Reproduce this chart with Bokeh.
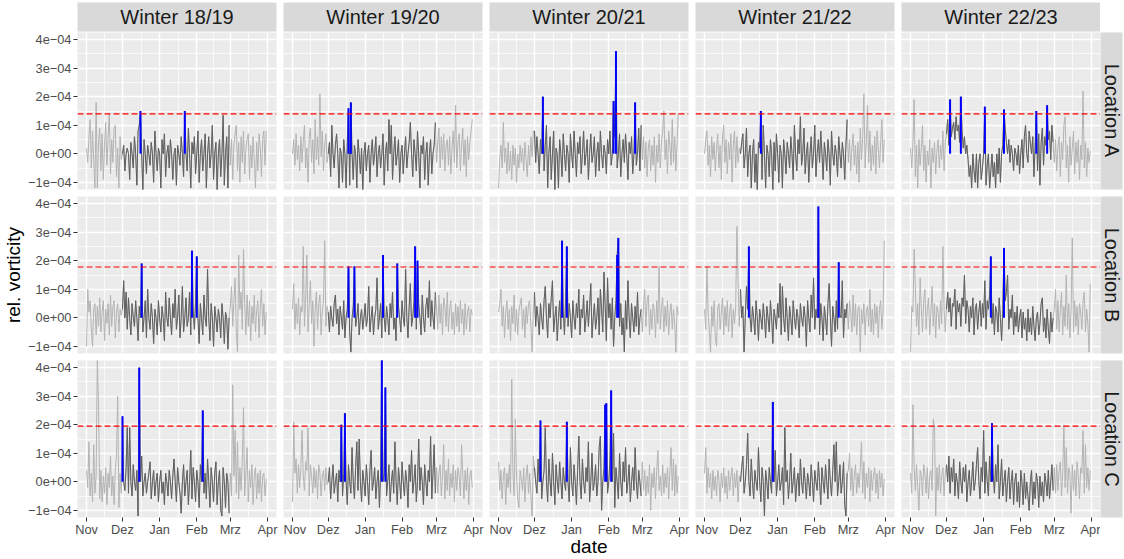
import math
import datetime as dt
from bokeh.plotting import figure
from bokeh.layouts import row, column, Spacer
from bokeh.models import Range1d, FixedTicker, Span
from bokeh.core.properties import value
from bokeh.embed import file_html
from bokeh.resources import INLINE

# ---------------- data (vorticity in units of 1e-5, daily from 1 Nov) ----------------
seasons = ["Winter 18/19", "Winter 19/20", "Winter 20/21", "Winter 21/22", "Winter 22/23"]
start_years = [2018, 2019, 2020, 2021, 2022]
locations = ["Location A", "Location B", "Location C"]
thresholds = [14.0, 17.8, 19.5]
month_labels = ["Nov", "Dez", "Jan", "Feb", "Mrz", "Apr"]
y_ticks = [-10, 0, 10, 20, 30, 40]
y_minor = [-5, 5, 15, 25, 35]
y_labels = ["\u22121e\u221204", "0e+00", "1e\u221204", "2e\u221204", "3e\u221204", "4e\u221204"]

A_1819 = [2, -3, 6, 12, -5, 8, -2, -12, 18, -12,
          4, 9, -6, 7, -9, 3, 11, -4, 6, 14,
          -7, 5, -3, 9, 10, -8, 2, -12, 6, -2,
          0, 3, -6, 0, 2, 0, -9, 4, 0, -5,
          6, 0, -11, 8, 10, 15, 0, -13, 5, 0,
          -7, 3, 0, -4, 4, 0, -10, 8, 0, -6,
          2, 0, -12, 5, 0, 7, -8, 0, 3, -5,
          5, 0, -9, 0, 2, -11, 3, 0, -4, 6,
          0, -8, 15, 0, -6, 9, 0, -12, 4, 0,
          6, -7, 0, 8, -10, 0, 5, -6, 0, 7,
          -12, 0, 6, -5, 0, 10, -9, 0, 4, -13,
          0, 5, -8, 0, 13.5, -11, 0, 6, -12, 10,
          -4, 5, -9, 3, 7, 10, -6, 4, -10, 6,
          -3, 8, -7, 2, 5, 7, -9, 3, -5, 6,
          -2, -12, 4, -6, 7, 2, -8, 5, 8, -4, 8]

A_1920 = [0, 5, -4, 7, -2, 3, -6, 6, -3, 4,
          10, -5, 2, -10, 6, 9, -3, 5, -7, 12,
          -2, 6, -4, 21, -1, 8, -6, 3, 7, -3,
          0, 4, -8, 10, 0, -5, 3, 7, 0, -12,
          2, 0, -10, 5, 0, -12, 4, 16, -11, 18,
          0, -9, 3, 0, -12, 5, 0, -7, 2, -13,
          0, 4, -6, 0, 3, -10, 0, 5, -4, 0,
          6, -8, 0, 3, -5, 0, 7, -11, 0, 4,
          -6, 12, 0, 10, -9, 0, 6, -4, 0, 5,
          -10, 0, 3, -7, 0, 6, -5, 0, 4, 11,
          0, -8, 5, 0, -6, 8, 0, -12, 3, 0,
          6, -9, 0, 4, -11, 0, 5, -7, 0, 3, 11,
          -3, 4, 9, -5, 6, -2, 7, -6, 3, 5,
          -4, 6, -7, 2, 8, -3, 17, -5, 4, 7,
          -6, 3, 9, -4, 5, -8, 6, -2, 4, 8, 12]

A_2021 = [-12, -2, 3, -5, 11, -3, 2, -7, 4, -6,
          1, -9, 3, -4, 2, -10, 0, -5, 3, -3,
          2, -6, 4, -2, -8, 3, -4, 6, -1, 8,
          8, -3, 6, 0, -7, 5, 0, 20, -6, 3,
          10, -12, 0, 6, -9, 0, 8, -13, 2, 0,
          -12, 5, 0, -8, 7, 0, -6, 3, 0, -10,
          7, 0, -5, 8, 0, -8, 4, 0, 6, -7,
          0, 8, -4, 0, 5, -9, 0, 7, -3, 0,
          6, -8, 0, 4, -6, 8, 0, -5, 3, 0,
          -7, 5, 0, 8, -4, 0, 18.5, 6, 36, -5,
          0, 7, -8, 0, 5, -3, 7, 0, -9, 4,
          0, 6, -7, 0, 18, -4, 0, 9, -6, 10,
          -2, 6, -5, 4, -8, 2, 5, -6, 3, -4,
          6, -10, 3, -3, 7, -5, 4, 8, 15, -2,
          5, -7, 8, 3, -4, 12, -3, 6, -6, 4, 14]

A_2122 = [0, 5, 8, -4, 3, -8, 6, -2, 4, -6,
          2, 7, -5, 3, -9, 6, 10, -3, 5, -7,
          4, -2, 7, -10, 3, 8, -5, 6, -3, 2,
          0, 4, 7, -5, 0, 9, -8, 0, 3, -12,
          0, 5, -10, 0, -13, 4, 2, 15, -9, 10,
          0, -12, 3, 0, -8, 5, 0, -13, 4, -6,
          7, 0, -10, 3, 0, -12, 5, 0, -7, 4,
          0, -5, 6, 0, -9, 10, 0, -6, 5, 0,
          13, -4, 0, 9, -7, 0, 4, -10, 0, 6,
          -5, 0, 10, -8, 0, 5, -3, 8, 0, -9,
          4, 0, -6, 5, 0, -11, 8, 0, -4, 3,
          0, -8, 6, 0, -5, 4, 0, -9, 3, 12,
          -3, 5, -6, 2, 7, -4, 3, -7, 4, -10,
          9, -2, 6, 21, -5, 4, 17, -3, 8, -6,
          3, -4, 6, -7, 8, 2, -5, 4, 12, -3, 5]

A_2223 = [2, -5, 4, 19, -8, 3, -12, 5, -4, 2,
          10, -6, 3, -10, 1, -4, 5, -12, 2, -3,
          4, -7, 1, 5, -5, 3, -2, 8, -6, 4,
          7, 12, 3, 19, 6, 9, 11, 5, 13, 8,
          10, 4, 20, 8, 2, 6, 0, 3, -2, -8,
          -4, -12, 0, -6, -10, 0, -12, -3, 0, -9,
          -5, 0, 16.5, -11, -4, 0, -12, -6, 0, -8,
          -3, -12, 0, -7, 2, -10, 0, 3, 15.5, 9,
          4, 0, 5, -3, 3, 0, -6, 2, 0, -4,
          3, -7, 0, 5, -5, 6, 10, 0, -3, 8,
          4, 0, 6, -8, 3, 15, -6, 7, -11, 4,
          9, -4, 6, 3, 17, 5, 8, -2, 10, 4,
          -3, 5, -6, 2, 6, -8, 4, -2, 10, 13,
          -5, 3, -10, 6, -4, 2, 8, -7, 4, -3,
          5, -9, 3, -2, 22, -5, 4, -8, 2, -3, 1]

B_1819 = [-10, 10, 2, 6, -4, -10, 3, 5, -6, 4,
          -3, 7, -5, 2, 6, -8, 3, -2, 5, -6,
          8, -3, 4, 6, -7, 2, 5, -5, 3, 1,
          3, 13, 0, 9, -4, 7, 0, -6, 5, 0,
          -3, 6, 0, -8, 4, 0, 19, -5, 0, 6,
          -7, 10, 0, -4, 5, 0, -9, 3, 0, -6,
          6, 0, -5, 4, 0, -8, 9, 0, -3, 7,
          0, -6, 5, 0, 10, -4, 0, 8, -7, 0,
          11, -5, 0, 7, -3, 0, 9, -6, 23.5, 3,
          -4, 6, 21.5, 0, -9, 5, 0, -6, 8, 0,
          -3, 17, 0, -8, 5, 0, -10, 4, 0, -5,
          3, 0, -7, 5, 0, -9, 2, 0, -11, 0,
          4, 11, -3, 6, 14, -5, -12, 22, 3, 9,
          -4, 24, 5, -6, 8, -3, 6, -8, 4, -2,
          8, -5, 3, 6, -7, 4, 10, -3, 5, -6, 2]

B_1920 = [3, 12, -4, 5, -2, 7, -6, 4, 2, 25,
          -3, 6, 22, -5, 4, 13, -2, 6, -10, 3,
          9, -4, 5, 8, -6, 2, 6, 27, -3, 4,
          2, -5, 4, 0, -3, 5, 8, -2, 3, -6,
          4, 0, -4, 6, -7, 0, 3, 18, -5, -12,
          0, 4, 18, -3, 0, 5, -6, 0, 3, -4,
          0, 5, -3, 0, 11, -5, 0, 4, -6, 0,
          3, 14, -4, 0, 5, -7, 22, 0, -5, 4,
          0, -6, 5, 0, 9, -4, 0, -8, 19, 4,
          0, -5, 6, 0, -3, 17, 0, -7, 4, 12,
          -3, 0, 6, 25, -4, 20, 5, 0, -6, 8,
          0, -5, 4, 7, 0, 13, -3, 6, 0, -4, 9,
          3, -4, 8, -2, 5, -6, 7, 4, -3, 9,
          -5, 3, 6, -4, 2, -6, 5, -3, 4, -5,
          6, -2, 3, -6, 5, -4, 2, 4, -5, 3, 1]

B_2021 = [2, 5, 10, -3, 4, -7, 2, 6, -4, 3,
          -8, 4, -2, 8, -5, 3, -6, 2, 5, 7,
          -4, 3, -7, 4, -2, 5, 6, -3, -12, 2,
          9, -3, 4, 0, -6, 5, 0, -4, 6, 11,
          0, -7, 5, 0, 7, 13, -5, 0, 4, -8,
          0, 6, -4, 27, 3, -6, 7, 25, -3, 5,
          0, -7, 6, 0, -4, 5, 0, 10, -6, 3,
          0, 8, -5, 0, 6, -3, 4, 12, -7, 0,
          5, -4, 0, 7, -6, 10, 3, -5, 16, 4,
          -8, 14, 0, 5, -4, 7, -10, 0, 6, 22,
          28, -3, 5, -6, 0, -12, 6, -4, 13, 0,
          -7, 5, 0, -5, 4, -3, 9, -6, 0, 3,
          -5, 4, 10, -3, 6, 8, -6, 3, -4, 5,
          2, -7, 6, -2, 18, -4, 3, 7, -5, 4,
          -3, 6, -6, 2, 5, -4, 3, -2, -12, 4, 1]

B_2122 = [3, -4, 18, 2, -5, -12, 4, -3, 6, -7,
          -10, 3, 5, -4, 2, 7, -6, 4, -3, 6,
          -5, 2, 5, -7, 3, -2, 4, 32, 13, -3,
          10, 0, 4, -12, 0, 11, 3, 25, 0, -5,
          4, 0, -6, 6, 0, -8, 3, 0, -4, 5,
          0, -7, 4, 0, -5, 6, 0, -9, 3, 0,
          -4, 5, 0, 12, -6, 11, 0, -5, 7, 0,
          -8, 4, 0, -6, 6, 0, -4, 3, 0, -7,
          5, 0, -3, 4, 0, -10, 6, 0, -5, 8,
          0, 14, -4, 3, 0, 39, -6, 5, 0, -8,
          4, 0, -6, 5, 12, 0, -10, 4, 0, -5,
          6, -4, 19.5, 1, 0, 13, -7, 3, 0, 5,
          -4, 6, 2, -5, 8, -3, 5, -6, 3, 4,
          -12, 3, -2, 5, -6, 2, 4, -3, 10, -5,
          3, -6, 5, -2, 4, -7, 3, 6, -4, 2, 27]

B_2223 = [-12, 4, 2, 24, 11, -3, 5, -6, 14, 3,
          -5, 6, 10, -4, 3, 7, -6, 2, 11, -3,
          5, -7, 4, 2, -4, 6, -2, 25, 3, -5,
          3, 9, 2, 7, -3, 5, 4, 10, -4, 6,
          2, 5, -3, 7, 4, 15, -2, 6, 3, -5,
          4, 0, 7, -6, 3, 5, -4, 2, 6, -3,
          5, 0, 13, -4, 6, 3, 8, 21.5, -2, 5,
          -6, 4, 2, -5, 7, 0, -8, 3, 24.5, 6,
          9, 15, -4, 3, 0, 8, -6, 2, -3, 4,
          -5, 0, 3, -7, 2, -4, 0, -8, 3, -5,
          0, -6, 4, -3, -8, 0, 2, -6, -2, 5,
          7, -5, 0, -7, 3, -4, -9, 2, -5, 0,
          3, 10, -4, 6, -5, 3, 9, -6, 4, -3,
          15, -4, 5, -7, 3, 28, -5, 6, -3, 4,
          -6, 5, 2, -4, 6, 9, -5, 3, -2, -12, 12]

C_1819 = [4, -2, 14, -5, 3, -7, 13, -4, 2, 43,
          27, -6, 4, -7, 2, -4, 5, -8, 3, -2,
          9, -5, 2, -8, 4, 9, 30, -9, 3, -4,
          23, 0, -3, 5, 19, -4, 19, 0, -5, 6,
          0, -3, 4, -12, 40, 0, 9, -5, 0, 3,
          -4, 0, 3, 7, -6, 0, 4, -5, 0, 3,
          -7, 0, 4, -4, 0, -8, 3, 0, -5, 4,
          0, -6, 2, 8, 0, -7, 5, 0, -4, -11,
          0, 6, -5, 0, 4, -8, 0, 11, -6, 5,
          0, -7, 4, 0, -9, 6, 0, 25, -4, 3,
          -6, 8, 0, -9, 5, 0, -7, 3, 7, -8,
          0, 4, -10, -12, 5, 0, -9, 3, 0, -11,
          3, -5, 34, 2, 18, -4, 14, -6, 5, -3,
          7, 26, -5, 3, 12, -7, 4, -2, 6, -8,
          2, 5, -6, 3, -4, 4, -7, 2, 3, -5, 1]

C_1920 = [-7, 21, 3, 8, -4, 6, -2, 5, 18, 2,
          -3, 7, 4, 19, -5, 6, 2, -4, 5, -2,
          4, -6, 6, 3, -5, 2, 4, -3, 5, -1,
          0, 5, -6, 0, 6, -4, 0, 3, -7, 4,
          0, 20, -5, 3, 24, 0, -8, 6, 0, -4,
          12, 0, -6, 5, 14, -3, 15, 0, -7, 4,
          0, -5, 6, 0, -8, 4, 11, -3, 0, 5,
          -6, 0, 4, -9, 3, 43, 0, 3, 33, -5,
          0, 6, -7, 0, 4, -4, 14, 0, -8, 5,
          0, -6, 7, 0, -5, 4, 0, -9, 6, 0,
          11, -4, 0, 6, -7, 0, 15, -3, 5, 0,
          -8, 6, 0, -5, 4, 0, 16, -6, 3, 13, -4,
          5, -4, 3, 6, -5, 2, 13, -6, 4, -3,
          8, -5, 3, -2, 6, -7, 4, -3, 5, 2,
          -5, 13, 3, -6, 4, -3, 5, -8, 2, 4, -2]

C_2021 = [7, -3, 4, -6, 2, 5, -8, 3, -2, 6,
          -4, 36, 3, -5, 22, 2, -6, -9, 4, 1,
          -3, 5, -7, 2, 6, -4, 3, -5, -12, 9,
          5, 0, -4, 8, 0, 21.5, -6, 0, 4, 19,
          0, -7, 8, 0, -5, 10, 0, -8, 6, 0,
          -4, 7, 0, -6, 5, 0, -3, 21, 0, -7,
          12, 0, -5, 6, 0, -8, 4, 16, 0, -6,
          8, 0, -4, 5, 0, 14, -7, 0, 10, -3,
          0, 6, -5, 0, 12, 16, -10, 0, 5, 27,
          27.5, -4, 0, 8, 32, 0, 17, -9, 5, 0,
          -6, 10, 0, -5, 7, 0, 12, -4, 0, 6,
          -7, 0, 5, -3, 12, 0, -6, 4, 0, -5,
          7, -3, 4, -5, 2, -4, 6, -10, 3, -2,
          5, -6, 4, 11, -3, 2, -5, 6, -4, 3,
          -2, 5, -6, 4, 12, -3, 8, -5, 6, -4, 2]

C_2122 = [3, 12, -4, 5, -2, 3, -6, 4, -3, 2,
          -5, 4, 1, -7, 3, -2, 5, -4, 2, -6,
          4, -3, 2, 5, -5, 3, -2, 4, -7, 2,
          0, 5, 9, -4, 0, 6, 17, 0, -5, 8,
          0, -6, 4, 0, -3, 12, 0, -7, 5, 0,
          -12, 4, 0, -6, 5, 0, -4, 28, 0, 11,
          -5, 0, 6, -3, 0, 5, -8, 19, 0, 4,
          -6, 0, 10, -4, 0, 5, -7, 0, 3, -5,
          8, 0, -4, 5, 0, -6, 3, 0, -5, 6,
          0, -7, 4, 0, -3, 7, 0, -8, 5, 0,
          -4, 6, 0, -6, 8, 0, -5, 4, 13, 0,
          14, -5, 0, 6, -4, 0, 7, -8, -12, 3,
          4, 10, -3, 5, -5, 2, 6, -4, 3, -2,
          5, 14, -4, 7, -6, 3, -2, 5, -7, 4,
          -3, 2, 5, -4, 3, -6, 4, -2, 3, -5, 1]

C_2223 = [3, -4, 27, 5, -3, 6, -2, -10, 4, 2,
          -5, 6, 3, -4, 5, -6, 2, 4, -3, 22,
          19, -12, 5, -3, 6, -4, 2, 5, -5, 3,
          6, 0, 9, -4, 5, 0, 8, -5, 3, 0,
          -6, 7, 0, -4, 5, 0, 6, -7, 0, 4,
          -5, 0, 7, -3, 0, 6, 12, 0, -6, 5,
          0, 18, -4, 7, 0, -5, 9, 0, 20.5, 3,
          -4, 6, 0, 13, -6, 0, 8, -5, 0, 4,
          -7, 0, 5, -6, 0, 4, -8, 0, 3, -7,
          0, -9, 4, 0, -8, 3, -6, 0, -5, -10,
          0, 4, -8, 0, -6, 3, 0, -9, 2, -5,
          0, -7, 3, 0, -5, 4, -6, 0, 6, -3,
          5, -4, 6, -3, 4, 7, -5, 3, 20, -2,
          12, -4, 5, 3, -11, 6, -3, 4, -5, 7,
          2, -6, 5, 3, 18, -4, 13, -2, 5, -3, 4]

panel_data = [
    [A_1819, A_1920, A_2021, A_2122, A_2223],
    [B_1819, B_1920, B_2021, B_2122, B_2223],
    [C_1819, C_1920, C_2021, C_2122, C_2223],
]

# ---------------- styling ----------------
FONT = "Liberation Sans"
PANEL_BG = "#EBEBEB"
STRIP_BG = "#D9D9D9"
LIGHT = "#B3B3B3"
DARK = "#5F5F5F"
FW, FH = 199, 157
GAP_X, GAP_Y = 7, 7
LEFT, BOTTOM = 77, 42
STRIP_TOP = 2
RSTRIP = 22
TICK_FS = "12.8px"
TITLE_FS = "19px"
STRIP_FS = "20px"


def month_ticks(y0):
    nov1 = dt.date(y0, 11, 1)
    months = [dt.date(y0, 11, 1), dt.date(y0, 12, 1), dt.date(y0 + 1, 1, 1),
              dt.date(y0 + 1, 2, 1), dt.date(y0 + 1, 3, 1), dt.date(y0 + 1, 4, 1)]
    return [(m - nov1).days for m in months]


def make_panel(r, c):
    mt = month_ticks(start_years[c])
    minor = [(a + b) / 2 for a, b in zip(mt[:-1], mt[1:])]
    pad = 0.05 * (mt[-1] - mt[0])
    vals = panel_data[r][c]
    days = list(range(len(vals)))

    p = figure(frame_width=FW, frame_height=FH,
               x_range=Range1d(mt[0] - pad, mt[-1] + pad),
               y_range=Range1d(-12.5, 42.5),
               output_backend="svg", toolbar_location=None)
    p.min_border_left = LEFT if c == 0 else 0
    p.min_border_right = GAP_X if c < 4 else 0
    p.min_border_top = 0
    p.min_border_bottom = GAP_Y if r < 2 else BOTTOM
    p.background_fill_color = PANEL_BG
    p.border_fill_color = "white"
    p.outline_line_color = None

    xt = FixedTicker(ticks=mt, minor_ticks=minor)
    yt = FixedTicker(ticks=y_ticks, minor_ticks=y_minor)
    p.xaxis.ticker = xt
    p.yaxis.ticker = yt
    p.xgrid.ticker = xt
    p.ygrid.ticker = yt
    for g in (p.xgrid, p.ygrid):
        g.grid_line_color = "white"
        g.grid_line_width = 1.4
        g.minor_grid_line_color = "white"
        g.minor_grid_line_width = 0.7

    for ax in (p.xaxis, p.yaxis):
        ax.axis_line_color = None
        ax.major_tick_out = 4
        ax.major_tick_in = 0
        ax.minor_tick_out = 0
        ax.minor_tick_in = 0
        ax.major_tick_line_color = "#333333"
        ax.major_tick_line_width = 1
        ax.major_label_text_font = FONT
        ax.major_label_text_font_size = TICK_FS
        ax.major_label_text_color = "#4D4D4D"
        ax.axis_label_text_font = FONT
        ax.axis_label_text_font_size = TITLE_FS
        ax.axis_label_text_font_style = "normal"
        ax.axis_label_text_color = "black"

    p.xaxis.major_label_overrides = {t: l for t, l in zip(mt, month_labels)}
    p.yaxis.major_label_overrides = {t: l for t, l in zip(y_ticks, y_labels)}
    p.xaxis.major_label_standoff = 0
    p.yaxis.major_label_standoff = 2
    p.xaxis.axis_label_standoff = -4
    p.yaxis.axis_label_standoff = 1
    p.xaxis.visible = (r == 2)
    p.yaxis.visible = (c == 0)
    if r == 1 and c == 0:
        p.yaxis.axis_label = "rel. vorticity"
    if r == 2 and c == 2:
        p.xaxis.axis_label = "date"

    # full series (light), winter part (dark)
    p.line(days, vals, line_color=LIGHT, line_width=1)
    w0, w1 = mt[1], mt[4]
    p.line(days[w0:w1], vals[w0:w1], line_color=DARK, line_width=1)

    thr = thresholds[r]
    p.add_layout(Span(location=thr, dimension="width", line_color="#FF0000",
                      line_dash="6 3", line_width=1.2))

    ex = [d for d in days[w0:w1] if vals[d] > thr]
    ey = [vals[d] for d in ex]
    if ex:
        p.segment(x0=ex, y0=[0] * len(ex), x1=ex, y1=ey,
                  line_color="#0000FF", line_width=2)
    return p


def make_top_strip(c):
    p = figure(frame_width=FW, frame_height=29, x_range=Range1d(0, 1), y_range=Range1d(0, 1),
               output_backend="svg", toolbar_location=None,
               x_axis_location=None, y_axis_location=None)
    p.min_border_left = LEFT if c == 0 else 0
    p.min_border_right = GAP_X if c < 4 else 0
    p.min_border_top = STRIP_TOP
    p.min_border_bottom = 1
    p.background_fill_color = STRIP_BG
    p.border_fill_color = "white"
    p.outline_line_color = None
    p.grid.visible = False
    p.text(x=[0.5], y=[0.5], text=[seasons[c]], text_align="center", text_baseline="middle",
           text_font=value(FONT), text_font_size=STRIP_FS, text_color="#1A1A1A")
    return p


def make_right_strip(r):
    p = figure(frame_width=RSTRIP, frame_height=FH, x_range=Range1d(0, 1), y_range=Range1d(0, 1),
               output_backend="svg", toolbar_location=None,
               x_axis_location=None, y_axis_location=None)
    p.min_border_left = 0
    p.min_border_right = 1124 - (LEFT + 5 * FW + 4 * GAP_X) - RSTRIP
    p.min_border_top = 0
    p.min_border_bottom = GAP_Y if r < 2 else BOTTOM
    p.background_fill_color = STRIP_BG
    p.border_fill_color = "white"
    p.outline_line_color = None
    p.grid.visible = False
    p.text(x=[0.5], y=[0.5], text=[locations[r]], text_align="center", text_baseline="middle",
           angle=-math.pi / 2,
           text_font=value(FONT), text_font_size=STRIP_FS, text_color="#1A1A1A")
    return p


right_w = 1124 - (LEFT + 5 * FW + 4 * GAP_X)
top_row = row([make_top_strip(c) for c in range(5)] + [Spacer(width=right_w, height=STRIP_TOP + 30)])
rows = [top_row]
for r in range(3):
    rows.append(row([make_panel(r, c) for c in range(5)] + [make_right_strip(r)]))
layout = column(rows)

open("out.html", "w").write(file_html(layout, INLINE))
